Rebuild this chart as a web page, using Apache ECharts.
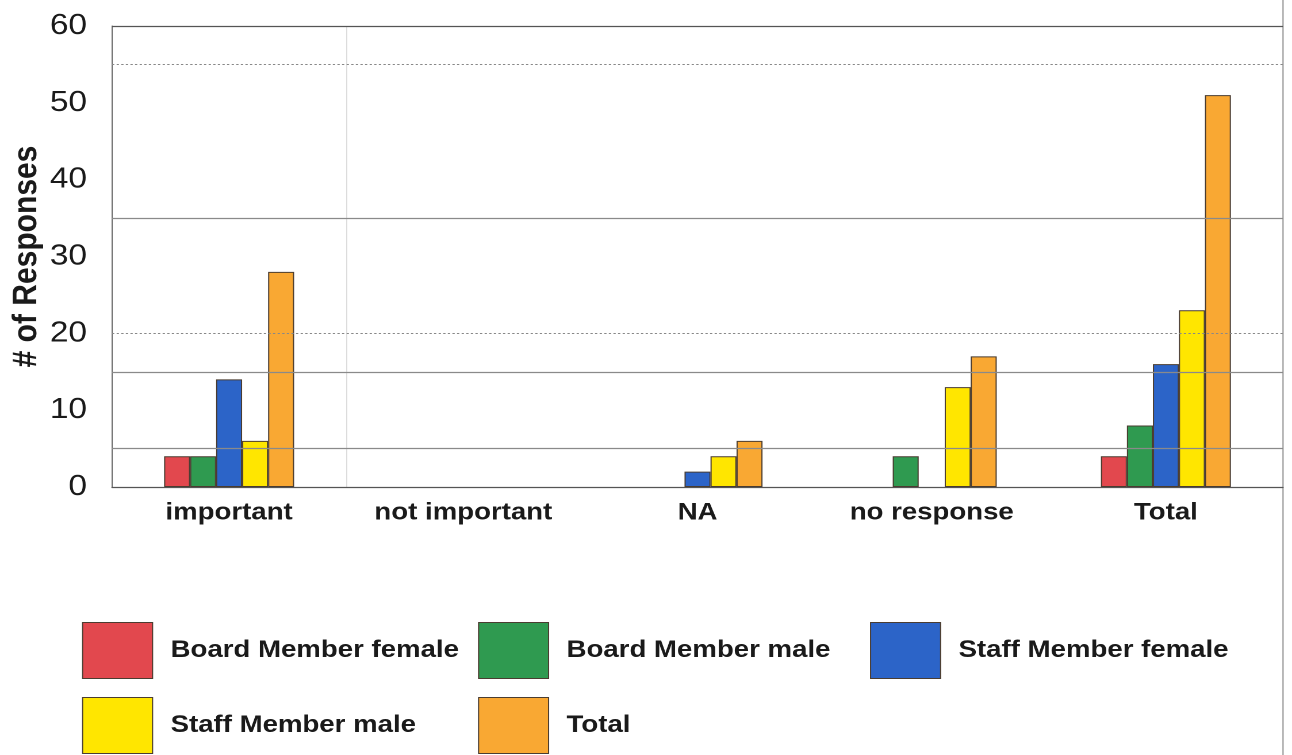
<!DOCTYPE html>
<html>
<head>
<meta charset="utf-8">
<title># of Responses</title>
<script src="https://cdn.jsdelivr.net/npm/echarts@6/dist/echarts.min.js"></script>
<style>
  html, body { margin: 0; padding: 0; background: #fff; }
  #wrap { width: 1292px; height: 755px; overflow: hidden; position: relative; }
  #chart { height: 755px; transform-origin: 0 0; }
</style>
</head>
<body>
<div id="wrap"><div id="chart"></div></div>
<script>
// Survey counts per answer group
const categories = ['important', 'not important', 'NA', 'no response', 'Total'];
const seriesNames = ['Board Member female', 'Board Member male', 'Staff Member female', 'Staff Member male', 'Total'];
const boardFemale = [4, 0, 0, 0, 4];
const boardMale = [4, 0, 0, 4, 8];
const staffFemale = [14, 0, 2, 0, 16];
const staffMale = [6, 0, 4, 13, 23];
const totals = [28, 0, 6, 17, 51];
const yTicks = [0, 10, 20, 30, 40, 50, 60];

// Reference lines drawn across the plot
const solidLines = [60, 35, 15, 5];
const dottedLines = [55, 20];

const colors = ['#e2484e', '#2f9a50', '#2c64c8', '#ffe600', '#f9a833'];

// The chart is laid out narrower and stretched horizontally (wide lettering)
const SX = 1.15;
const W = Math.round(1292 / SX);
const el = document.getElementById('chart');
el.style.width = W + 'px';
el.style.transform = 'scaleX(' + SX + ')';
const sx = v => v / SX;

const chart = echarts.init(el, null, { renderer: 'canvas', devicePixelRatio: 2 });

const seriesData = [boardFemale, boardMale, staffFemale, staffMale, totals];
const FONT = '"Liberation Sans", Arial, sans-serif';
const TXT = '#1a1a1a';

const gridLines = solidLines.map(v => ({
  yAxis: v, lineStyle: { type: 'solid', color: v === 60 ? '#555' : '#8a8a8a', width: 1.2 }
})).concat(dottedLines.map(v => ({
  yAxis: v, lineStyle: { type: [2, 2], color: '#888', width: 1 }
})));

const series = seriesNames.map((name, i) => {
  const s = {
    name: name,
    type: 'bar',
    // empty groups get no outline
    data: seriesData[i].map(v => v === 0 ? { value: v, itemStyle: { borderWidth: 0 } } : v),
    barWidth: sx(26),
    barGap: '0%',
    itemStyle: { color: colors[i], borderColor: '#4a3c30', borderWidth: 1 },
    emphasis: { disabled: true },
    animation: false
  };
  if (i === 0) {
    s.markLine = {
      silent: true,
      symbol: ['none', 'none'],
      label: { show: false },
      animation: false,
      data: gridLines
    };
  }
  return s;
});

// One legend block per entry, arranged in two rows
const legendPos = [
  { left: 82, top: 622 }, { left: 478, top: 622 }, { left: 870, top: 622 },
  { left: 82, top: 697 }, { left: 478, top: 697 }
];
const legends = seriesNames.map((name, i) => ({
  data: [name],
  left: sx(legendPos[i].left),
  top: legendPos[i].top,
  padding: 0,
  icon: 'rect',
  itemWidth: sx(70),
  itemHeight: 56,
  selectedMode: false,
  itemStyle: { borderColor: '#4a3c30', borderWidth: 1 },
  textStyle: {
    fontFamily: FONT, fontSize: 24, fontWeight: 'bold', color: TXT,
    padding: [0, 0, 0, sx(18) - 5]
  }
}));

chart.setOption({
  backgroundColor: '#fff',
  animation: false,
  color: colors,
  legend: legends,
  grid: {
    left: sx(112),
    right: W - sx(1283),
    top: 26,
    bottom: 755 - 487,
    containLabel: false,
    outerBoundsMode: 'none'
  },
  xAxis: {
    type: 'category',
    data: categories,
    axisTick: { show: false },
    axisLine: { lineStyle: { color: '#555', width: 1.2 } },
    axisLabel: {
      interval: 0,
      fontFamily: FONT, fontSize: 24, fontWeight: 'bold', color: TXT, margin: 14
    },
    splitLine: {
      show: true,
      interval: 0,
      lineStyle: { color: ['transparent', '#dcdcdc', 'transparent', 'transparent', 'transparent', 'transparent'], width: 1 }
    }
  },
  yAxis: {
    type: 'value',
    min: yTicks[0],
    max: yTicks[yTicks.length - 1],
    interval: yTicks[1] - yTicks[0],
    name: '# of Responses',
    nameLocation: 'middle',
    nameGap: sx(68),
    nameMoveOverlap: false,
    nameRotate: 90,
    nameTextStyle: { fontFamily: FONT, fontSize: 30, fontWeight: 'bold', color: TXT },
    axisLine: { show: true, lineStyle: { color: '#666', width: 1 } },
    axisTick: { show: false },
    splitLine: { show: false },
    axisLabel: { fontFamily: FONT, fontSize: 29, color: TXT, margin: sx(25) }
  },
  graphic: [{
    type: 'line',
    silent: true,
    shape: { x1: sx(1283), y1: 0, x2: sx(1283), y2: 755 },
    style: { stroke: '#8a8a8a', lineWidth: 1 }
  }],
  series: series
});
</script>
</body>
</html>
